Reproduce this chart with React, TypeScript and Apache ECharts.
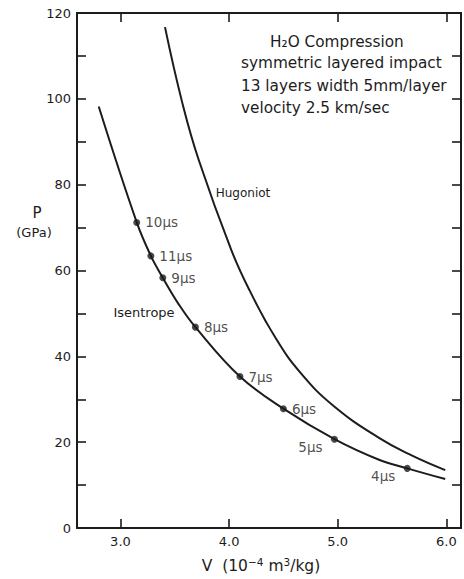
import React, { useEffect, useRef } from "react";
import * as echarts from "echarts";

// Hugoniot curve (V in 1e-4 m^3/kg, P in GPa)
const hugoniotV = [3.41, 3.57, 3.72, 4.02, 4.19, 4.43, 4.66, 4.96, 5.38, 5.69, 5.99];
const hugoniotP = [116.7, 99.0, 85.8, 64.8, 55.3, 44.2, 36.1, 28.5, 21.0, 16.8, 13.5];

// Isentrope curve
const isentropeV = [2.8, 3.15, 3.28, 3.39, 3.54, 3.69, 4.1, 4.5, 4.97, 5.38, 5.64, 5.99];
const isentropeP = [98.2, 71.2, 63.4, 58.3, 52.0, 46.8, 35.3, 27.8, 20.7, 15.9, 13.9, 11.4];

// Time markers on the isentrope
const pointLabels = ["10μs", "11μs", "9μs", "8μs", "7μs", "6μs", "5μs", "4μs"];
const pointV = [3.15, 3.28, 3.39, 3.69, 4.1, 4.5, 4.97, 5.64];
const pointP = [71.2, 63.4, 58.3, 46.8, 35.3, 27.8, 20.7, 13.9];

const titleLines = [
  "H₂O Compression",
  "symmetric layered impact",
  "13 layers width 5mm/layer",
  "velocity 2.5 km/sec",
];

const FONT = "'DejaVu Sans', 'Liberation Sans', sans-serif";
const INK = "#1c1c1c";

export default function App() {
  const ref = useRef<HTMLDivElement>(null);
  useEffect(() => {
    if (!ref.current) return;
    const chart = echarts.init(ref.current, undefined, { renderer: "svg" });

    const labelStyle = { color: INK, fontSize: 13.5, fontFamily: FONT };
    const below = new Set(["5μs", "4μs"]);
    const scatterData = pointLabels.map((name, i) => {
      const item: any = { name, value: [pointV[i], pointP[i]] };
      if (below.has(name)) {
        item.label = { ...labelStyle, position: "inside", offset: [-24, 8] };
      }
      return item;
    });

    const tickStyle = { show: true, inside: true, length: 9, lineStyle: { color: INK, width: 1.6 } };
    const lineStyleAxis = { show: true, onZero: false, lineStyle: { color: INK, width: 2 } };
    const axisCommonX = {
      type: "value",
      min: 2.6,
      max: 6.135,
      splitNumber: 3,
      splitLine: { show: false },
      axisLine: lineStyleAxis,
      axisTick: tickStyle,
    };
    const axisCommonY = {
      type: "value",
      min: 0,
      max: 120,
      interval: 10,
      splitLine: { show: false },
      axisLine: lineStyleAxis,
      axisTick: tickStyle,
    };

    const ttl = titleLines.map((t, i) => ({
      type: "text",
      x: i === 0 ? 270 : 241,
      y: [42, 63, 86, 108][i],
      style: {
        text: t,
        fill: INK,
        fontSize: 15.3,
        fontFamily: FONT,
        textAlign: "left",
        textVerticalAlign: "middle",
      },
    }));

    const txt = (text: string, x: number, y: number, fontSize: number) => ({
      type: "text",
      x,
      y,
      style: { text, fill: INK, fontSize, fontFamily: FONT, textAlign: "center", textVerticalAlign: "middle" },
    });

    chart.setOption({
      animation: false,
      backgroundColor: "#ffffff",
      grid: { left: 77, right: -2, top: 13, bottom: 51, containLabel: false },
      xAxis: [
        {
          ...axisCommonX,
          position: "bottom",
          axisLabel: {
            show: true,
            margin: 7,
            color: INK,
            fontSize: 13,
            fontFamily: FONT,
            formatter: (v: number) => (Math.abs(v - Math.round(v)) < 1e-6 ? v.toFixed(1) : ""),
          },
        },
        { ...axisCommonX, position: "top", axisLabel: { show: false } },
      ],
      yAxis: [
        {
          ...axisCommonY,
          position: "left",
          axisLabel: {
            show: true,
            margin: 6,
            color: INK,
            fontSize: 13,
            fontFamily: FONT,
            formatter: (v: number) => (v % 20 === 0 ? String(v) : ""),
          },
        },
        { ...axisCommonY, position: "right", axisLabel: { show: false } },
      ],
      series: [
        {
          type: "line",
          name: "Hugoniot",
          data: hugoniotV.map((v, i) => [v, hugoniotP[i]]),
          smooth: 0.45,
          showSymbol: false,
          lineStyle: { color: INK, width: 2 },
        },
        {
          type: "line",
          name: "Isentrope",
          data: isentropeV.map((v, i) => [v, isentropeP[i]]),
          smooth: 0.4,
          showSymbol: false,
          lineStyle: { color: INK, width: 2 },
        },
        {
          type: "scatter",
          data: scatterData,
          symbolSize: 7,
          itemStyle: { color: INK },
          label: {
            show: true,
            position: "right",
            distance: 5,
            formatter: "{b}",
            ...labelStyle,
          },
          z: 5,
        },
      ],
      graphic: [
        ...ttl,
        txt("Isentrope", 144, 312, 13),
        txt("Hugoniot", 243, 193, 12),
        txt("P", 37, 213, 15),
        txt("(GPa)", 34, 232, 13),
        {
          type: "text",
          x: 261,
          y: 566,
          style: {
            text: "V  (10{sup|−4} m{sup|3}/kg)",
            fill: INK,
            fontSize: 15.5,
            fontFamily: FONT,
            textAlign: "center",
            textVerticalAlign: "middle",
            rich: {
              sup: { fontSize: 10.5, fontFamily: FONT, fill: INK, verticalAlign: "top", lineHeight: 20 },
            },
            lineHeight: 20,
          },
        },
      ],
    });
    return () => chart.dispose();
  }, []);
  return (
    <div
      ref={ref}
      style={{ position: "fixed", left: 0, top: 0, width: 464, height: 579, background: "#fff" }}
    />
  );
}
